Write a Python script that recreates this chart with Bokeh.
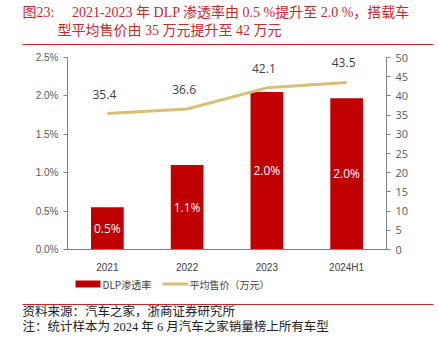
from bokeh.plotting import figure
from bokeh.models import (ColumnDataSource, Range1d, LinearAxis, FactorRange,
                          FixedTicker, CustomJSTickFormatter)
from bokeh.core.properties import value
from bokeh.embed import file_html
from bokeh.resources import INLINE

# ---- data ----
categories = ["2021", "2022", "2023", "2024H1"]
dlp_rate = [0.55, 1.10, 2.05, 1.97]          # %
dlp_labels = ["0.5%", "1.1%", "2.0%", "2.0%"]
avg_price = [35.4, 36.6, 42.1, 43.5]          # 万元
price_labels = ["35.4", "36.6", "42.1", "43.5"]
left_ticks = [0, 0.5, 1.0, 1.5, 2.0, 2.5]
right_ticks = [0, 5, 10, 15, 20, 25, 30, 35, 40, 45, 50]
legend_names = ["DLP渗透率", "平均售价（万元）"]

title1 = "图23:\u00a0\u00a0\u00a0\u00a0\u00a02021-2023 年 DLP 渗透率由 0.5 %提升至 2.0 %，搭载车"
title2 = "型平均售价由 35 万元提升至 42 万元"
foot1 = "资料来源：汽车之家，浙商证券研究所"
foot2 = "注：统计样本为 2024 年 6 月汽车之家销量榜上所有车型"

BAR = "#C00000"
LINE = "#D9BE76"
RED = "#C8282C"
W = 439
TOP_H, MAIN_H, BOT_H = 47, 228, 64
SANS = "Liberation Sans"
SERIF = "Liberation Serif, Noto Sans CJK SC"
CJK = "Noto Sans CJK SC"


def blank(h):
    f = figure(width=W, height=h, x_range=Range1d(0, W), y_range=Range1d(h, 0),
               x_axis_type=None, y_axis_type=None, output_backend="svg",
               toolbar_location=None, min_border=0)
    f.min_border_left = f.min_border_right = f.min_border_top = f.min_border_bottom = 0
    f.outline_line_color = None
    f.grid.grid_line_color = None
    f.background_fill_color = "white"
    f.border_fill_color = "white"
    return f


# ---- title panel ----
top = blank(TOP_H)
top.text(x=[22], y=[12], text=[title1], text_font=value(SERIF), text_font_size="14px",
         text_color=RED, text_baseline="middle")
top.text(x=[57], y=[30], text=[title2], text_font=value(SERIF), text_font_size="14px",
         text_color=RED, text_baseline="middle")
top.segment(x0=[22], y0=[44], x1=[433], y1=[44], line_color=RED, line_width=1.2)

# ---- main chart ----
p = figure(width=W, height=MAIN_H, x_range=FactorRange(*categories), y_range=Range1d(0, 2.5),
           output_backend="svg", toolbar_location=None,
           min_border_left=67, min_border_right=53, min_border_top=10, min_border_bottom=24)
p.extra_y_ranges = {"price": Range1d(0, 50)}
p.outline_line_color = None
p.grid.grid_line_color = None
p.background_fill_color = "white"
p.border_fill_color = "white"

bar_src = ColumnDataSource(dict(x=categories, top=dlp_rate, lab=dlp_labels,
                                mid=[v / 2 for v in dlp_rate]))
p.vbar(x="x", top="top", width=0.41, source=bar_src, fill_color=BAR, line_color=None)
p.text(x="x", y="mid", text="lab", source=bar_src, text_align="center", text_baseline="middle",
       text_color="white", text_font_size="12px", text_font=value("Open Sans"))

line_src = ColumnDataSource(dict(x=categories, y=avg_price, lab=price_labels))
p.line(x="x", y="y", source=line_src, line_color=LINE, line_width=3, y_range_name="price")
p.text(x="x", y="y", text="lab", source=line_src, y_range_name="price", text_align="center",
       text_baseline="bottom", y_offset=-15, x_offset=-3, text_color="#404040",
       text_font_size="12px", text_font=value("Open Sans"))

p.yaxis.ticker = FixedTicker(ticks=left_ticks)
p.yaxis.formatter = CustomJSTickFormatter(code="return tick.toFixed(1) + '%'")
ly = p.yaxis[0]
ly.axis_line_color = "#808080"
ly.major_tick_line_color = "#808080"
ly.major_tick_out = 4
ly.major_tick_in = 0
ly.minor_tick_line_color = None
ly.major_label_text_font = SANS
ly.major_label_text_font_size = "10px"
ly.major_label_text_color = "#595959"

ry = LinearAxis(y_range_name="price", ticker=FixedTicker(ticks=right_ticks))
ry.axis_line_color = "#808080"
ry.major_tick_line_color = "#808080"
ry.major_tick_out = 4
ry.major_tick_in = 0
ry.minor_tick_line_color = None
ry.major_label_text_font = "Open Sans"
ry.major_label_text_font_size = "11px"
ry.major_label_text_color = "#595959"
p.add_layout(ry, "right")

p.xaxis.axis_line_color = "#808080"
p.xaxis.major_tick_line_color = None
p.xaxis.major_label_text_font = SANS
p.xaxis.major_label_text_font_size = "10px"
p.xaxis.major_label_text_color = "#404040"
p.xaxis.major_label_standoff = 6

# ---- legend + footer panel ----
bot = blank(BOT_H)
bot.quad(left=[75], right=[100], top=[5], bottom=[12], fill_color=BAR, line_color=None)
bot.text(x=[102], y=[8.5], text=[legend_names[0]], text_font=value(CJK), text_font_size="10px",
         text_color="#404040", text_baseline="middle")
bot.segment(x0=[162], y0=[8.5], x1=[188], y1=[8.5], line_color=LINE, line_width=3)
bot.text(x=[189], y=[8.5], text=[legend_names[1]], text_font=value(CJK), text_font_size="10px",
         text_color="#404040", text_baseline="middle")
bot.segment(x0=[22], y0=[29], x1=[433], y1=[29], line_color=RED, line_width=1.2)
bot.text(x=[22], y=[36], text=[foot1], text_font=value(SERIF), text_font_size="12.5px",
         text_color="#202020", text_baseline="middle")
bot.text(x=[22], y=[51], text=[foot2], text_font=value(SERIF), text_font_size="12.5px",
         text_color="#202020", text_baseline="middle")

open("out.html", "w").write(file_html([top, p, bot], INLINE))
